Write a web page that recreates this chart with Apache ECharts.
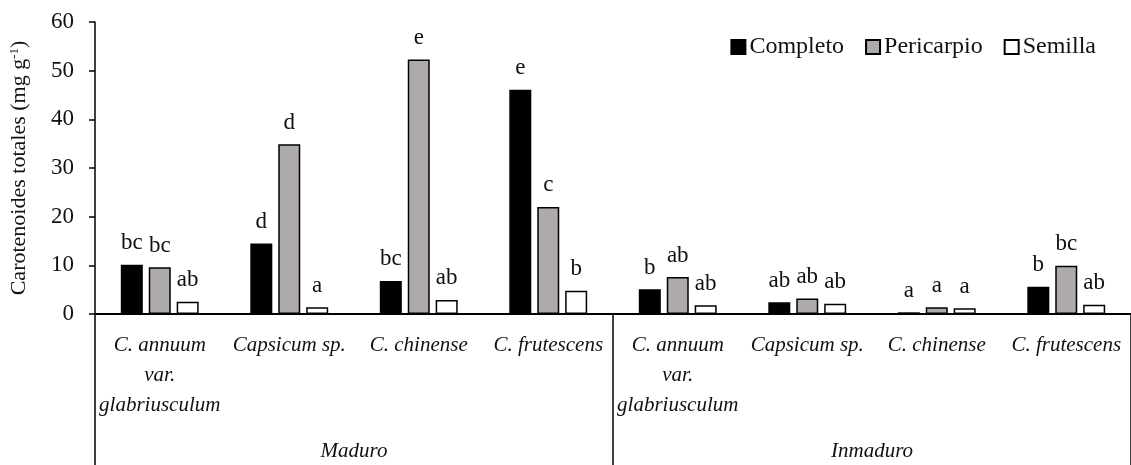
<!DOCTYPE html>
<html><head><meta charset="utf-8">
<script src="https://cdn.jsdelivr.net/npm/echarts@6/dist/echarts.min.js"></script>
<style>html,body{margin:0;padding:0;background:#fff}#c{width:1131px;height:465px}</style>
</head><body><div id="c"></div>
<script>
const categories = ['C. annuum\nvar.\nglabriusculum','Capsicum sp.','C. chinense','C. frutescens','C. annuum\nvar.\nglabriusculum','Capsicum sp.','C. chinense','C. frutescens'];
const groups = ['Maduro','Inmaduro'];
const seriesNames = ['Completo','Pericarpio','Semilla'];
const completo = [10.1,14.5,6.8,46.1,5.1,2.4,0.35,5.6];
const pericarpio = [9.6,34.9,52.3,22.0,7.6,3.2,1.4,9.9];
const semilla = [2.5,1.4,2.9,4.8,1.8,2.1,1.2,1.9];
const letrasCompleto = ['bc','d','bc','e','b','ab','a','b'];
const letrasPericarpio = ['bc','d','e','c','ab','ab','a','bc'];
const letrasSemilla = ['ab','a','ab','b','ab','ab','a','ab'];
const yMin = 0, yMax = 60, yStep = 10;

const FONT = '"Liberation Serif", "DejaVu Serif", serif';
const chart = echarts.init(document.getElementById('c'), null, {renderer:'canvas'});
function mk(name, data, letters, color){
  return {
    name, type:'bar', data, barWidth:22, barGap:'27%',
    itemStyle:{color, borderColor:'#000', borderWidth:1.5},
    label:{show:true, position:'top', distance:10, color:'#111', fontFamily:FONT, fontSize:23,
      formatter:p=>letters[p.dataIndex]},
    emphasis:{disabled:true}
  };
}
chart.setOption({
  animation:false,
  backgroundColor:'#fff',
  textStyle:{fontFamily:FONT, color:'#111'},
  grid:{left:95, right:0, top:22, bottom:151, containLabel:false},
  legend:{
    data:seriesNames, right:30, top:30, icon:'rect', itemWidth:14, itemHeight:14, itemGap:21,
    textStyle:{fontFamily:FONT, fontSize:24, color:'#111', padding:[0,0,0,-1]}
  },
  xAxis:[{
    type:'category', data:categories, position:'bottom',
    axisLine:{lineStyle:{color:'#000', width:2}},
    axisTick:{show:true, length:151, interval:(i)=> i===0 || i===4, lineStyle:{color:'#000', width:1.5}},
    axisLabel:{interval:0, fontFamily:FONT, fontStyle:'italic', fontSize:21, color:'#111', margin:16, lineHeight:30},
  },{
    type:'category', data:groups, position:'bottom',
    axisLine:{show:false}, axisTick:{show:false},
    axisLabel:{interval:0, fontFamily:FONT, fontStyle:'italic', fontSize:21, color:'#111', margin:127}
  }],
  yAxis:{
    type:'value', min:yMin, max:yMax, interval:yStep,
    name:'Carotenoides totales (mg g{sup|-1})', nameLocation:'middle', nameGap:64, nameRotate:90,
    nameTextStyle:{fontFamily:FONT, fontSize:22, color:'#111',
      rich:{sup:{fontFamily:FONT, fontSize:13, color:'#111', verticalAlign:'top', padding:[0,0,10,0]}}},
    axisLine:{show:true, lineStyle:{color:'#000', width:1.5}},
    axisTick:{show:true, length:6, lineStyle:{color:'#000', width:1.5}},
    axisLabel:{fontFamily:FONT, fontSize:23, color:'#111', margin:21},
    splitLine:{show:false}
  },
  series:[
    mk(seriesNames[0], completo, letrasCompleto, '#000'),
    mk(seriesNames[1], pericarpio, letrasPericarpio, '#aeaaaa'),
    mk(seriesNames[2], semilla, letrasSemilla, '#fff')
  ]
});
</script></body></html>
